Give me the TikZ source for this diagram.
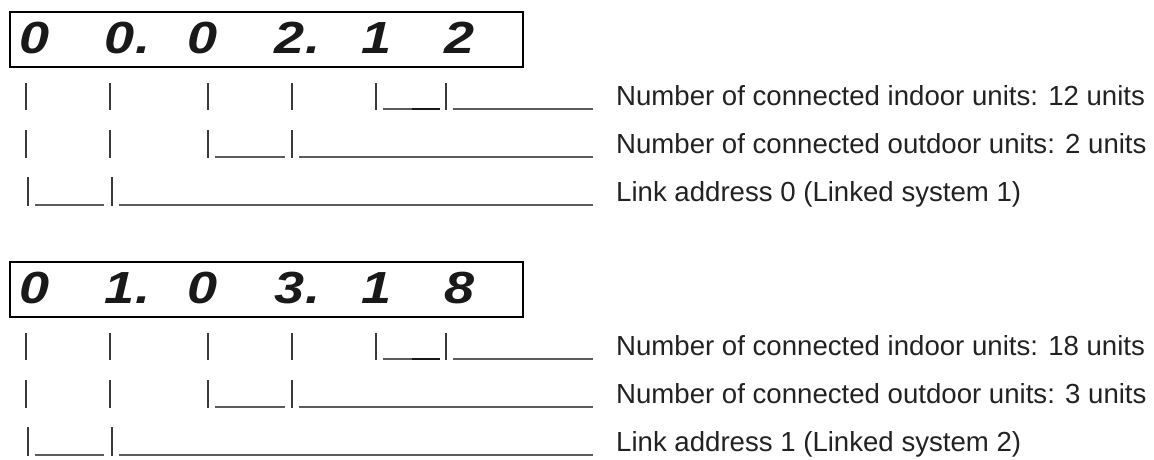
\documentclass[tikz,border=0pt]{standalone}
\usepackage{xcolor}
\usepackage{fontspec}
\setmainfont{Liberation Sans}
\newfontfamily\lcdfont[FakeStretch=1.2]{Liberation Sans}
\usepackage{tikz}
\usetikzlibrary{positioning}

\definecolor{barcol}{HTML}{3A3A3A}
\definecolor{linecol}{HTML}{5C5C5C}
\definecolor{txtcol}{HTML}{222222}

\begin{document}
\begin{tikzpicture}[x=1pt, y=-1pt,
  lcdbox/.style={draw=black, line width=2pt, inner sep=0pt, anchor=north west,
    minimum width=513pt, minimum height=55pt},
  lcddigit/.style={font=\lcdfont\fontsize{45}{50}\selectfont\bfseries\itshape, text=black!90,
    inner sep=0pt, anchor=base},
  infotext/.style={font=\fontsize{27.6}{32}\selectfont, text=txtcol, inner sep=0pt, anchor=base west},
  bar/.style={draw=barcol, line width=1.3pt},
  uline/.style={draw=linecol, line width=1.2pt}]

\useasboundingbox (0,0) rectangle (1154,459);

% first display: 00.02.12
\node[lcdbox] (disp_a) at (9,11) {};
\node[lcddigit] (a_1) at (35,53) {0};
\node[lcddigit] (a_2) at (120,53) {0\rlap{.}};
\node[lcddigit] (a_3) at (203,53) {0};
\node[lcddigit] (a_4) at (290,53) {2\rlap{.}};
\node[lcddigit] (a_5) at (377,53) {1};
\node[lcddigit] (a_6) at (460,53) {2};

\node[infotext] (a_indoor) at (616,105) {Number of connected indoor units: 12 units};
\node[infotext] (a_outdoor) at (616,153) {Number of connected outdoor units: 2 units};
\node[infotext] (a_link) at (616,201) {Link address 0 (Linked system 1)};

% row 1
\draw[bar] (26,83) -- (26,110);
\draw[bar] (110,83) -- (110,110);
\draw[bar] (208,83) -- (208,110);
\draw[bar] (292,83) -- (292,110);
\draw[bar] (376,83) -- (376,110);
\draw[uline] (383,109) -- (440,109);
\draw[draw=black!90, line width=1.8pt] (412,109) -- (440,109);
\draw[bar] (446,83) -- (446,110);
\draw[uline] (453,109) -- ([xshift=-23pt,yshift=-4pt]a_indoor.base west);
% row 2
\draw[bar] (26,130) -- (26,158);
\draw[bar] (110,130) -- (110,158);
\draw[bar] (208,130) -- (208,158);
\draw[uline] (215,157) -- (285,157);
\draw[bar] (292,130) -- (292,158);
\draw[uline] (299,157) -- ([xshift=-23pt,yshift=-4pt]a_outdoor.base west);
% row 3
\draw[bar] (28,177) -- (28,206);
\draw[uline] (35,205) -- (104,205);
\draw[bar] (112,177) -- (112,206);
\draw[uline] (119,205) -- ([xshift=-23pt,yshift=-4pt]a_link.base west);

% second display: 01.03.18
\node[lcdbox] (disp_b) at (9,261) {};
\node[lcddigit] (b_1) at (35,303) {0};
\node[lcddigit] (b_2) at (120,303) {1\rlap{.}};
\node[lcddigit] (b_3) at (203,303) {0};
\node[lcddigit] (b_4) at (290,303) {3\rlap{.}};
\node[lcddigit] (b_5) at (377,303) {1};
\node[lcddigit] (b_6) at (460,303) {8};

\node[infotext] (b_indoor) at (616,355) {Number of connected indoor units: 18 units};
\node[infotext] (b_outdoor) at (616,403) {Number of connected outdoor units: 3 units};
\node[infotext] (b_link) at (616,451) {Link address 1 (Linked system 2)};

% row 1
\draw[bar] (26,333) -- (26,360);
\draw[bar] (110,333) -- (110,360);
\draw[bar] (208,333) -- (208,360);
\draw[bar] (292,333) -- (292,360);
\draw[bar] (376,333) -- (376,360);
\draw[uline] (383,359) -- (440,359);
\draw[draw=black!90, line width=1.8pt] (412,359) -- (440,359);
\draw[bar] (446,333) -- (446,360);
\draw[uline] (453,359) -- ([xshift=-23pt,yshift=-4pt]b_indoor.base west);
% row 2
\draw[bar] (26,380) -- (26,408);
\draw[bar] (110,380) -- (110,408);
\draw[bar] (208,380) -- (208,408);
\draw[uline] (215,407) -- (285,407);
\draw[bar] (292,380) -- (292,408);
\draw[uline] (299,407) -- ([xshift=-23pt,yshift=-4pt]b_outdoor.base west);
% row 3
\draw[bar] (28,427) -- (28,456);
\draw[uline] (35,455) -- (104,455);
\draw[bar] (112,427) -- (112,456);
\draw[uline] (119,455) -- ([xshift=-23pt,yshift=-4pt]b_link.base west);

\end{tikzpicture}
\end{document}
